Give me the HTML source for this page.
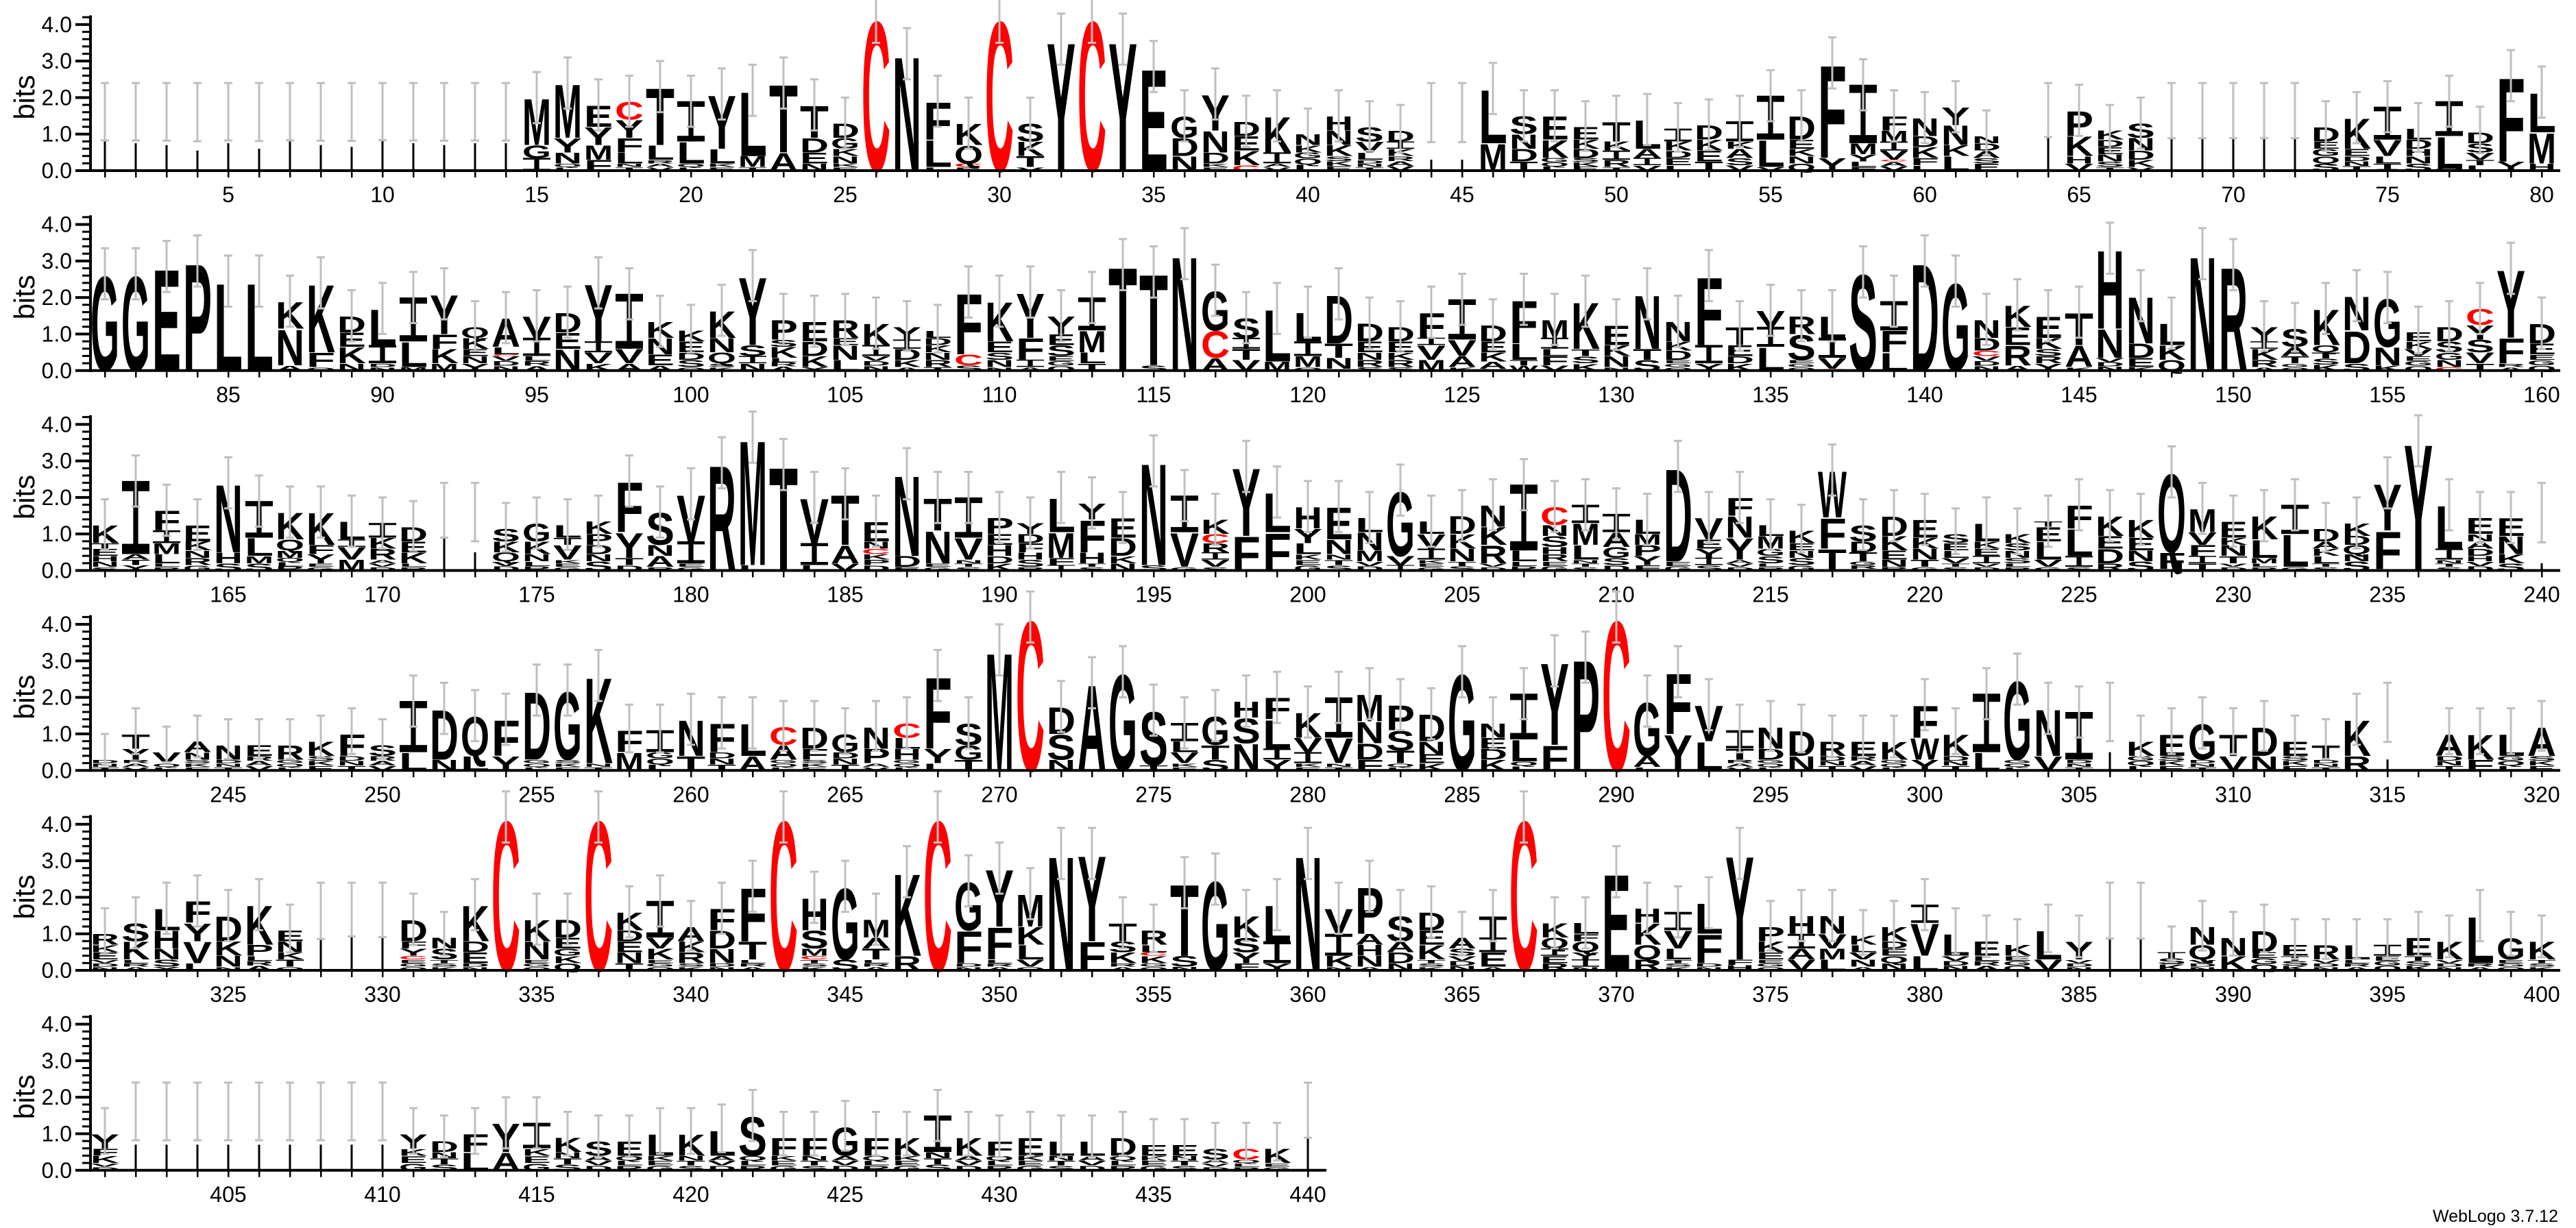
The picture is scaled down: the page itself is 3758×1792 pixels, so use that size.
<!DOCTYPE html>
<html><head><meta charset="utf-8"><style>
html,body{margin:0;padding:0;background:#fff;}
svg{display:block;}
text{font-family:"Liberation Sans",Arial,sans-serif;}
.L{font-weight:bold;}
</style></head><body>
<svg id="s" width="3758" height="1792" xmlns="http://www.w3.org/2000/svg"></svg>
<script>
const R=[
"|0.8;|0.75;|0.7;|0.55;|0.75;|0.6;|0.8;|0.7;|0.65;|0.85;|0.75;|0.7;|0.75;|0.75;M1.3 G0.35 I0.35;M1.5 Y0.4 N0.3 _0.2;E0.6 Y0.5 M0.4 F0.3;C0.5r Y0.5 F0.4 L0.3 _0.2;T1.6 L0.4 _0.3;I1.1 L0.6 _0.2;Y1.5 L0.4 _0.2;L1.8 M0.3 _0.1;T1.9 A0.5;T0.9 D0.4 E0.3 N0.2;D0.4 G0.3 K0.2 N0.2 _0.2;C4.2r;N3.2;F1.05 L0.75 _0.1;K0.6 Q0.5 C0.1r _0.1;C4.2r;S0.5 K0.4 T0.3 _0.1;Y3.6;C4.2r;Y3.6;E2.85;G0.6 D0.5 N0.4;Y1.0 N0.6 D0.3 _0.2;D0.4 E0.4 K0.4 C0.15r;K1.0 I0.3 _0.2;N0.3 K0.2 _0.5;H0.4 N0.4 K0.3 _0.4;S0.4 V0.3 L0.2 _0.3;D0.3 I0.2 K0.2 _0.4;|0.3;|0.3;L1.5 M0.75;S0.5 N0.4 D0.35 T0.25;E0.65 K0.5 _0.35;E0.35 K0.25 D0.25 _0.35;T0.55 K0.25 I0.25 R0.2 _0.1;L0.8 A0.25 I0.2 _0.15;I0.35 K0.25 D0.2 E0.2 _0.15;D0.4 K0.3 E0.3 T0.25;I0.55 K0.2 A0.25 S0.2 V0.15;I1.2 L0.75 V0.1;D0.65 E0.25 K0.2 N0.2 Q0.2;F2.6 Y0.35;I1.6 M0.3 Y0.2 L0.15 F0.1;F0.4 M0.3 I0.25 V0.25 C0.05r _0.25;N0.5 D0.3 K0.3 F0.2 _0.15;Y0.5 N0.55 K0.3 L0.4;N0.2 D0.2 A0.2 S0.15 E0.2;-;|1.7;P0.7 K0.55 H0.2 V0.2;K0.25 D0.2 E0.2 N0.2 S0.15 _0.1;S0.4 N0.35 D0.25 K0.2 _0.1;|1.4;|1.4;|1.4;|1.4;|1.4;D0.4 E0.2 G0.2 Q0.2 S0.2;K0.85 E0.2 _0.4;I0.9 V0.45 L0.2 T0.15 S0.05;L0.3 D0.25 H0.2 N0.2 S0.2;I0.95 L0.9 V0.05;D0.3 S0.25 V0.2 T0.15 L0.15;F2.35 Y0.25;L1.1 M0.85 H0.2",
"G2.65;G2.65;E2.85;P3.0;L2.45;L2.45;K0.75 N1.0 _0.15;K1.9 F0.4 _0.1;D0.45 E0.4 K0.45 N0.2;L1.0 I0.5 _0.2;I1.2 L0.7 M0.1;Y1.1 F0.4 K0.4 M0.2;Q0.3 K0.3 E0.2 N0.2 Y0.2;A0.8 L0.2 C0.05r _0.4;V0.6 I0.5 _0.4;D0.55 E0.45 N0.6;Y1.6 I0.3 V0.3 K0.2;I1.5 V0.4 A0.2;K0.45 N0.45 E0.3 _0.15;K0.3 E0.3 D0.2 S0.2 _0.1;K0.75 N0.4 Q0.3 _0.2;Y1.9 S0.3 I0.2 N0.2;P0.55 S0.2 K0.3 _0.35;E0.55 D0.4 K0.3 Y0.1;R0.5 E0.2 N0.4 L0.3;K0.6 I0.3 _0.4;Y0.35 I0.25 D0.3 K0.2 _0.1;L0.2 D0.2 K0.2 N0.2 R0.2 T0.1;F1.7 C0.3r S0.15;K1.1 E0.3 S0.2 N0.2 _0.1;Y1.25 F0.6 I0.2 _0.1;Y0.5 E0.3 S0.3 _0.4;I0.9 M0.6 L0.3 T0.2;T2.9;T2.55 S0.15;N3.2;G1.1 C0.75r A0.35;S0.55 I0.3 T0.3 V0.3;L1.45 M0.25;L0.8 I0.4 M0.3 _0.1;D1.35 T0.4 N0.3 _0.05;D0.5 E0.3 N0.2 R0.2 S0.1;D0.4 E0.3 K0.2 R0.2 S0.1;F0.7 I0.2 V0.4 M0.3;I1.1 V0.45 A0.3 _0.1;D0.45 E0.3 K0.25 A0.2 N0.05;F1.2 L0.45 T0.15 W0.15;M0.5 I0.3 L0.2 F0.25 V0.15;K1.3 _0.6;E0.55 K0.3 N0.3 _0.1;N1.5 T0.3 S0.3;N0.55 K0.25 D0.25 _0.3;F1.9 I0.5 Y0.2;T0.5 E0.3 D0.2 K0.2;V0.45 I0.55 L0.65;R0.5 S0.7 _0.3;L0.6 I0.55 V0.3 C0.05r;S2.7;I0.8 F0.6 L0.5;D3.0;G2.45;N0.5 D0.35 C0.15r _0.4;K0.6 E0.5 R0.55 _0.15;E0.6 K0.3 S0.2 R0.2 Y0.2;T0.9 A0.6 _0.1;H2.2 N0.8 _0.35;N1.3 D0.4 E0.25 K0.1;L0.6 K0.4 Q0.3;N3.2;R2.9;Y0.4 I0.2 K0.3 R0.2 _0.1;S0.5 A0.25 T0.2 _0.2;K1.0 Q0.2 _0.5;N0.95 D0.9 S0.2;G1.35 N0.5 K0.15;E0.25 K0.2 V0.2 _0.4;D0.4 S0.3 G0.2 N0.2 C0.1r;C0.45r Y0.4 S0.35 V0.3 T0.2;Y1.9 F0.7 _0.2;D0.55 E0.3 _0.45",
"K0.5 T0.15 E0.2 H0.15 N0.15 _0.1;I2.0 A0.15 T0.15 Y0.15;F0.55 I0.35 M0.3 L0.25 _0.2;E0.45 K0.25 N0.2 R0.2 _0.15;N1.9 H0.3 S0.2;I1.0 L0.5 M0.2 S0.2;K0.75 Q0.3 M0.2 _0.35;K0.9 F0.25 Y0.25 _0.2;L0.5 I0.2 V0.35 M0.3;I0.4 K0.3 R0.3 _0.3;D0.4 E0.3 K0.3 _0.2;|1.5;|0.5;S0.35 K0.3 Q0.25 _0.25;G0.5 K0.35 N0.2 _0.25;L0.35 T0.2 V0.4 _0.3;K0.35 P0.3 D0.25 N0.2 S0.25;F1.4 Y0.7 T0.2 _0.15;S0.9 N0.3 A0.3 _0.1;V1.3 I0.6 _0.2;R2.95;M3.5 L0.15;T2.9;V1.25 I0.6 L0.15;T1.4 A0.5 V0.2;E0.55 N0.2 C0.15r K0.15 P0.15 _0.15;N2.25 D0.3 E0.1;T0.9 N0.9 _0.2;I1.1 V0.6 _0.3;P0.45 E0.3 H0.3 D0.2 K0.2;Y0.3 D0.25 F0.25 H0.2 S0.2 _0.1;L0.95 M0.7 F0.2 I0.15;Y0.45 F0.9 H0.3 _0.2;E0.55 D0.5 K0.2 N0.2;N2.85 S0.15;I1.0 V0.95 _0.1;K0.4 C0.25r R0.25 I0.2 V0.2 _0.1;Y1.9 F0.95;L1.1 F1.05;H0.6 Y0.4 L0.3 _0.45;E0.9 N0.4 _0.45;L0.4 N0.5 M0.3 _0.25;G1.8 V0.25 I0.15;L0.35 V0.4 I0.3 _0.3;D0.5 K0.4 N0.35 _0.25;N0.6 K0.5 R0.5 _0.2;I1.8 L0.3 _0.25;C0.5r N0.3 S0.3 H0.2 R0.2 _0.25;I0.5 M0.6 L0.4 _0.3;I0.5 A0.4 G0.3 S0.2 _0.15;L0.4 M0.3 P0.3 Y0.25 F0.15;D2.6 _0.25;V0.6 E0.25 Y0.25 I0.2 _0.15;F0.5 N0.6 Y0.6 _0.3;L0.3 M0.35 G0.2 S0.2 _0.2;K0.35 E0.2 N0.2 S0.2 _0.15;W1.3 F0.85 T0.6;S0.45 D0.3 T0.25 G0.1 R0.1 _0.05;D0.55 K0.4 E0.25 N0.2 R0.1;E0.5 K0.3 N0.3 T0.2 _0.1;S0.25 E0.2 L0.2 V0.15 _0.2;L0.5 K0.2 E0.2 I0.2 _0.2;K0.25 S0.2 N0.2 S0.15 _0.2;T0.15 E0.4 L0.5 V0.2 _0.1;F0.65 L0.75 I0.3 _0.1;K0.55 E0.35 D0.4 R0.2;K0.5 E0.35 N0.3 S0.25;Q2.2 F0.45 _0.05;M0.65 V0.35 F0.3 I0.2 T0.2;E0.45 K0.2 N0.3 T0.2 _0.2;K0.65 L0.5 M0.15 _0.2;I0.8 L0.9 _0.1;D0.35 A0.2 K0.2 L0.2 _0.2;K0.35 D0.25 Q0.25 N0.2 S0.25;Y1.3 F1.05 _0.05;Y3.55;L1.2 I0.3 _0.3;E0.45 N0.2 A0.2 D0.2 H0.15 _0.25;E0.5 N0.5 K0.25 S0.2;|0.2",
"_0.3;T0.4 Y0.3 _0.3;V0.3 _0.2;A0.3 N0.2 _0.3;N0.4 _0.3;E0.3 _0.4;R0.4 _0.3;K0.4 _0.4;F0.6 _0.4;S0.3 _0.4;I1.4 L0.5;D1.4 N0.3;Q1.1 L0.4;F1.0 Y0.4;D1.9 _0.3;G1.9 _0.3;K2.4 _0.2;F0.6 M0.5;I0.6 _0.5;N1.0 T0.4;F0.8 _0.5;L0.9 A0.4;C0.5r A0.4 _0.3;D0.6 F0.3 _0.3;G0.5 _0.5;N0.6 P0.4 _0.2;C0.4r L0.3 H0.3 _0.3;F2.0 Y0.4 L0.2;S0.6 G0.4 T0.3;M3.3;C4.2r;D0.75 S0.7 N0.3;A2.4;G2.7;S1.5 T0.15;I0.5 L0.3 V0.3 _0.2;G0.8 T0.4 S0.3;H0.45 S0.7 N0.75;F0.6 L0.8 I0.3 Y0.3;K0.7 V0.4 I0.3 _0.2;I1.1 V0.7 _0.2;M0.75 N0.6 D0.45 F0.3;P0.7 S0.55 T0.35 _0.2;D0.75 N0.35 E0.25 K0.2;G2.7;N0.4 E0.3 D0.3 K0.3;I1.25 L0.6 _0.25;Y2.3 F0.7;P3.1;C4.2r;G1.5 A0.3 _0.1;F1.7 Y1.0;V1.0 L0.8;I0.5 T0.3 _0.3;N0.6 D0.3 _0.3;D0.7 N0.4;R0.4 _0.4;E0.4 _0.4;K0.5 _0.3;F0.9 W0.6 Y0.3;K0.6 _0.4;I1.6 L0.5;G2.2 _0.3;N1.3 V0.4;I1.3 _0.3;|0.5;K0.4 _0.4;E0.6 _0.4;G1.0 _0.3;T0.6 V0.4;D0.8 N0.4;E0.4 _0.4;T0.4 _0.3;K1.0 R0.4;|0.3;-;A0.6 _0.4;K0.7 F0.3;L0.6 _0.4;A0.8 _0.4",
"R0.3 K0.2 E0.2 _0.3;S0.5 K0.5 _0.3;L0.6 H0.5 N0.3 S0.2 Y0.1;F0.6 Y0.5 V0.6 L0.2;D0.7 K0.4 N0.3 _0.1;K1.1 P0.3 _0.4;E0.3 N0.3 K0.2 T0.2 _0.1;|1.1;|1.8;|1.6;D0.6 F0.2 Y0.2 C0.1r _0.3;N0.3 S0.3 _0.3;K1.0 D0.3 E0.3 _0.2;C4.2r;K0.6 N0.5 _0.3;D0.5 E0.3 G0.2 K0.2 Q0.2;C4.2r;K0.5 D0.3 E0.3 N0.3 T0.2;I1.0 V0.3 K0.3 _0.3;A0.4 K0.3 R0.3 _0.2;F0.6 D0.5 N0.4 _0.2;F1.5 T0.5 _0.3;C4.2r;H0.9 S0.5 M0.2 C0.1r _0.3;G2.0 S0.3;M0.5 A0.3 T0.3 _0.3;K2.3 R0.4;C4.2r;G1.35 F0.9 _0.2;Y1.6 F0.9 _0.3;M0.9 K0.5 L0.4 V0.2 _0.1;N3.2;Y2.4 F0.8;T0.5 S0.3 K0.3 _0.2;R0.4 L0.2 C0.1r K0.2 _0.2;T2.0 S0.3 N0.1;G2.5;K0.6 S0.4 Y0.3 F0.2;L1.0 I0.6 Y0.2;N3.2;V0.7 I0.6 K0.3 _0.1;P1.3 A0.3 H0.3 N0.3 _0.1;S0.7 A0.3 D0.3 N0.2;D0.5 E0.4 K0.4 _0.3;A0.3 S0.2 _0.4;T0.6 I0.4 E0.4 _0.1;C4.2r;K0.4 Q0.3 I0.2 E0.2 R0.2;L0.3 F0.2 Q0.3 Y0.2 I0.2 _0.1;E2.7;H0.4 K0.6 Q0.4 R0.3;I0.5 V0.5 L0.3 _0.3;L0.85 F0.8 _0.2;Y2.9 F0.15 H0.15;P0.4 K0.3 E0.2 _0.3;H0.5 I0.4 A0.3 V0.3;N0.5 V0.4 M0.3 L0.3;K0.25 L0.2 V0.2 N0.2 _0.1;K0.4 D0.2 E0.2 Q0.2 N0.2;I0.5 V0.9 L0.4;L0.6 _0.4;E0.4 _0.4;K0.3 _0.4;L0.8 V0.3;Y0.5 _0.3;|1.2;|1.2;_0.5;N0.5 Q0.4 _0.3;N0.5 K0.4;D0.6 _0.5;E0.3 _0.4;R0.4 _0.3;L0.4 _0.3;I0.3 _0.4;E0.5 _0.4;K0.5 _0.3;L1.3 _0.2;G0.6 _0.3;K0.5 _0.3",
"Y0.4 F0.2 K0.2 _0.2;|0.7;|0.7;|0.7;|0.7;|0.7;|0.7;|0.7;|0.7;|0.7;Y0.4 _0.6;D0.3 _0.5;F0.5 L0.5;Y0.8 A0.5;I0.7 _0.6;K0.4 _0.5;S0.4 _0.4;E0.4 _0.4;L0.6 _0.4;K0.6 _0.4;L0.7 _0.4;S1.1 _0.4;F0.5 _0.4;F0.5 _0.4;G0.8 _0.4;F0.5 _0.4;K0.5 _0.4;I1.0 _0.5;K0.5 _0.4;F0.4 _0.4;E0.5 _0.4;L0.4 _0.4;L0.4 _0.4;D0.5 _0.4;E0.3 _0.4;E0.3 _0.4;S0.3 _0.3;C0.3r _0.3;K0.4 _0.2;|1.4"
];
const B=53.3, X0=153, W=45, AX=132;
const FILL="EKSTNDVARLQG";
let o=[], bars=[];
function txt(ch,x,yb,h,red){
  if(h<1.2) return;
  const fs=h/0.716, col=red?'#ff0000':'#000';
  if(ch==='I'){
    const bh=Math.max(1,h*0.14);
    o.push(`<text class="L" x="${(x+14).toFixed(1)}" y="${yb.toFixed(1)}" font-size="${fs.toFixed(2)}" textLength="14" lengthAdjust="spacingAndGlyphs" fill="${col}">I</text>`);
    o.push(`<rect x="${(x+1).toFixed(1)}" y="${(yb-h).toFixed(1)}" width="40" height="${bh.toFixed(1)}" fill="${col}"/>`);
    o.push(`<rect x="${(x+1).toFixed(1)}" y="${(yb-bh).toFixed(1)}" width="40" height="${bh.toFixed(1)}" fill="${col}"/>`);
    return;
  }
  o.push(`<text class="L" x="${x.toFixed(1)}" y="${yb.toFixed(1)}" font-size="${fs.toFixed(2)}" textLength="42" lengthAdjust="spacingAndGlyphs" fill="${col}">${ch}</text>`);
}
R.forEach((row,r)=>{
  const base=249+r*291.75;
  const toks=row.split(";");
  const n=toks.length;
  toks.forEach((tk,i)=>{
    const cx=X0+i*W, left=cx-21;
    tk=tk.trim();
    if(tk==="-"||tk==="") return;
    const items=tk.split(/\s+/).map(s=>({c:s[0],red:s.endsWith('r'),h:parseFloat(s.replace(/r$/,'').slice(1))}));
    if(items[0].c==='|'){
      const h=items[0].h;
      o.push(`<rect x="${cx-1.5}" y="${(base-h*B).toFixed(1)}" width="3" height="${(h*B).toFixed(1)}" fill="#000"/>`);
      bars.push([cx,base-(0.75+h*0.1)*B,base-(2.4)*B]);
      return;
    }
    let y=base, tot=0;
    items.slice().reverse().forEach((it,k)=>{
      const hp=it.h*B;
      if(it.c==='_'){
        const ns=Math.max(1,Math.min(3,Math.round(it.h/0.12)));
        const sh=hp/ns;
        for(let j=0;j<ns;j++){txt(FILL[(i*3+j+r)%FILL.length],left,y,sh-0.5,false);y-=sh;}
      } else { txt(it.c,left,y,hp,it.red); y-=hp; }
      tot+=it.h;
    });
    const lo=Math.max(tot-0.7,tot*0.45), hi=tot+0.7;
    bars.push([cx,base-lo*B,base-hi*B]);
  });
  const right=X0+(n-1)*W+27;
  o.push(`<rect x="${AX-2}" y="${base-4.25*B}" width="4" height="${4.25*B+2}" fill="#000"/>`);
  o.push(`<rect x="${AX}" y="${base-2}" width="${right-AX}" height="4" fill="#000"/>`);
  for(let t=0;t<=21;t++){
    const y=base-t*0.2*B;
    if(t%5===0){
      o.push(`<rect x="${AX-22}" y="${y-2}" width="24" height="4" fill="#000"/>`);
      o.push(`<text x="${AX-27}" y="${y+11}" font-size="32" text-anchor="end">${(t/5).toFixed(1)}</text>`);
    } else o.push(`<rect x="${AX-12}" y="${y-1.5}" width="14" height="3" fill="#000"/>`);
  }
  o.push(`<text transform="translate(50,${base-107}) rotate(-90)" font-size="42" text-anchor="middle">bits</text>`);
  for(let i=0;i<n;i++){
    const cx=X0+i*W, p=r*80+i+1;
    o.push(`<rect x="${cx-1}" y="${base}" width="2.5" height="10" fill="#000"/>`);
    if(p%5===0) o.push(`<text x="${cx}" y="${base+46}" font-size="32" text-anchor="middle">${p}</text>`);
  }
});
bars.forEach(b=>{
  const [x,y1,y2]=b;
  o.push(`<line x1="${x}" y1="${y1.toFixed(1)}" x2="${x}" y2="${y2.toFixed(1)}" stroke="#bfbfbf" stroke-width="3"/>`);
  o.push(`<line x1="${x-6}" y1="${y1.toFixed(1)}" x2="${x+6}" y2="${y1.toFixed(1)}" stroke="#bfbfbf" stroke-width="3"/>`);
  o.push(`<line x1="${x-6}" y1="${y2.toFixed(1)}" x2="${x+6}" y2="${y2.toFixed(1)}" stroke="#bfbfbf" stroke-width="3"/>`);
});
o.push(`<text x="3732" y="1783" font-size="25" text-anchor="end">WebLogo 3.7.12</text>`);
document.getElementById('s').innerHTML=o.join("");
</script>
</body></html>
